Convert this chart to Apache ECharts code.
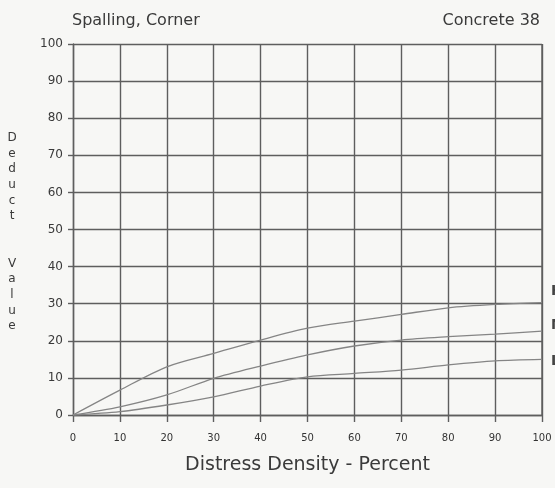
<!DOCTYPE html>
<html><head><meta charset="utf-8">
<script src="https://cdn.jsdelivr.net/npm/echarts@6/dist/echarts.min.js"></script>
<style>html,body{margin:0;padding:0;background:#f6f6f4;}#c{width:555px;height:488px;}</style>
</head><body><div id="c"></div>
<script>
const density = [0, 10, 20, 30, 40, 50, 60, 70, 80, 90, 100];
const highCurve = [0, 6.7, 13.0, 16.6, 20.2, 23.4, 25.3, 27.1, 28.9, 29.8, 30.3];
const mediumCurve = [0, 2.2, 5.4, 9.9, 13.2, 16.2, 18.6, 20.2, 21.1, 21.8, 22.6];
const lowCurve = [0, 0.9, 2.7, 4.9, 7.8, 10.3, 11.2, 12.1, 13.5, 14.6, 15.0];
const xTicks = [0, 10, 20, 30, 40, 50, 60, 70, 80, 90, 100];
const yTicks = [0, 10, 20, 30, 40, 50, 60, 70, 80, 90, 100];

const chart = echarts.init(document.getElementById('c'));
const pair = arr => density.map((d, i) => [d, arr[i]]);
const lineStyle = {color: '#858585', width: 1.3};
const mk = (name, arr) => ({name, type: 'line', data: pair(arr), smooth: 0.3, symbol: 'none', lineStyle, silent: true});
const font = '"DejaVu Sans", "Liberation Sans", sans-serif';
chart.setOption({
  backgroundColor: '#f7f7f5',
  animation: false,
  grid: {left: 73, right: 13, top: 44, bottom: 73},
  title: [
    {text: 'Spalling, Corner', left: 67, top: 8, textStyle: {fontFamily: font, fontSize: 16, fontWeight: 'normal', color: '#3a3a3a'}},
    {text: 'Concrete 38', right: 10, top: 8, textStyle: {fontFamily: font, fontSize: 16, fontWeight: 'normal', color: '#3a3a3a'}}
  ],
  xAxis: {
    type: 'value', min: 0, max: 100, interval: 10,
    name: 'Distress Density - Percent', nameLocation: 'middle', nameGap: 41,
    nameTextStyle: {fontFamily: font, fontSize: 19, color: '#3a3a3a'},
    axisLine: {show: true, lineStyle: {color: '#5e5e5e', width: 1.4}},
    axisTick: {show: true, length: 7, lineStyle: {color: '#5e5e5e', width: 1.4}},
    axisLabel: {fontFamily: font, fontSize: 10, color: '#333', margin: 18,
      formatter: v => xTicks.includes(v) ? String(v) : ''},
    splitLine: {show: true, lineStyle: {color: '#5e5e5e', width: 1.4}}
  },
  yAxis: {
    type: 'value', min: 0, max: 100, interval: 10,
    axisLine: {show: true, lineStyle: {color: '#5e5e5e', width: 1.4}},
    axisTick: {show: true, length: 5, lineStyle: {color: '#5e5e5e', width: 1.4}},
    axisLabel: {fontFamily: font, fontSize: 12, color: '#3a3a3a', margin: 10,
      formatter: v => yTicks.includes(v) ? String(v) : ''},
    splitLine: {show: true, lineStyle: {color: '#5e5e5e', width: 1.4}}
  },
  graphic: [
    {type: 'rect', shape: {x: 542, y: 44, width: 0, height: 371}, style: {stroke: '#5e5e5e', lineWidth: 1.4, fill: null}},
    {type: 'text', x: 12, y: 130, style: {text: 'D\ne\nd\nu\nc\nt\n\n\nV\na\nl\nu\ne', font: '12px ' + font, fill: '#3a3a3a', lineHeight: 15.7, align: 'center', verticalAlign: 'top'}},
    {type: 'text', x: 551, y: 284, style: {text: 'H', font: 'bold 14px ' + font, fill: '#444'}},
    {type: 'text', x: 551, y: 318, style: {text: 'M', font: 'bold 14px ' + font, fill: '#444'}},
    {type: 'text', x: 551, y: 354, style: {text: 'L', font: 'bold 14px ' + font, fill: '#444'}}
  ],
  series: [mk('H', highCurve), mk('M', mediumCurve), mk('L', lowCurve)]
});
</script></body></html>
